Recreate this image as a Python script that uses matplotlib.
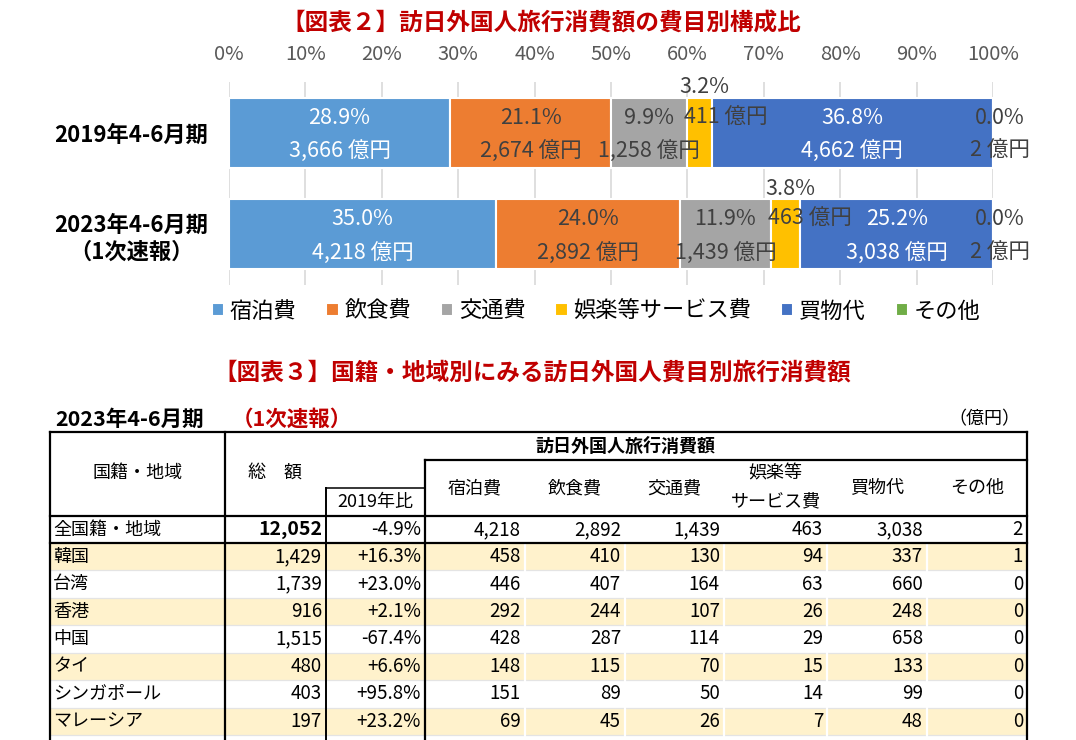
import matplotlib
matplotlib.use('Agg')
import matplotlib.pyplot as plt
import numpy as np

plt.rcParams['font.family'] = ['Noto Sans CJK JP', 'DejaVu Sans']

# ---- 図表2 data ----
categories = ['宿泊費', '飲食費', '交通費', '娯楽等サービス費', '買物代', 'その他']
colors = ['#5B9BD5', '#ED7D31', '#A5A5A5', '#FFC000', '#4472C4', '#70AD47']
periods = ['2019年4-6月期', '2023年4-6月期\n（1次速報）']
amounts_2019 = [3666, 2674, 1258, 411, 4662, 2]
amounts_2023 = [4218, 2892, 1439, 463, 3038, 2]
pct_2019 = [28.9, 21.1, 9.9, 3.2, 36.8, 0.0]
pct_2023 = [35.0, 24.0, 11.9, 3.8, 25.2, 0.0]

# ---- 図表3 data ----
regions = ['全国籍・地域', '韓国', '台湾', '香港', '中国', 'タイ', 'シンガポール', 'マレーシア']
totals = [12052, 1429, 1739, 916, 1515, 480, 403, 197]
vs_2019 = [-4.9, 16.3, 23.0, 2.1, -67.4, 6.6, 95.8, 23.2]
lodging = [4218, 458, 446, 292, 428, 148, 151, 69]
food = [2892, 410, 407, 244, 287, 115, 89, 45]
transport = [1439, 130, 164, 107, 114, 70, 50, 26]
entertainment = [463, 94, 63, 26, 29, 15, 14, 7]
shopping = [3038, 337, 660, 248, 658, 133, 99, 48]
other = [2, 1, 0, 0, 0, 0, 0, 0]

W, H = 1076, 740
RED = '#C00000'
DARK = '#404040'


def fx(x):
    return x / W


def fy(y):
    return 1 - y / H


fig = plt.figure(figsize=(W / 100, H / 100), dpi=100)

# full-figure axes in pixel coordinates, for titles and the table
tab = fig.add_axes([0, 0, 1, 1])
tab.set_xlim(0, W)
tab.set_ylim(H, 0)
tab.axis('off')

# ---------------- stacked bar chart ----------------
ax = fig.add_axes([fx(229), fy(285), (993 - 229) / W, (285 - 82) / H])
amounts = np.array([amounts_2019, amounts_2023], dtype=float)
pcts = np.array([pct_2019, pct_2023])
shares = amounts / amounts.sum(axis=1, keepdims=True) * 100
ypos = np.arange(len(periods))
bar_h = 0.69
fs_lab = 15.5

lefts = np.zeros(len(periods))
for i, cat in enumerate(categories):
    ax.barh(ypos, shares[:, i], left=lefts, height=bar_h, color=colors[i],
            edgecolor='white', linewidth=1.5, label=cat, zorder=2)
    for j in range(len(periods)):
        c = lefts[j] + shares[j, i] / 2
        txt_color = 'white' if i in (0, 4) else DARK
        pct_txt = '{:.1f}%'.format(pcts[j, i])
        amt_txt = '{:,} 億円'.format(int(amounts[j, i]))
        if i == 3:
            # small segment: percent above the bar, amount beside it
            ax.text(c + 0.6, ypos[j] - 0.45, pct_txt, ha='center', va='center',
                    fontsize=fs_lab, color=DARK, zorder=3)
            ax.text(lefts[j] - 0.4, ypos[j] - 0.15, amt_txt, ha='left', va='center',
                    fontsize=fs_lab, color=DARK, zorder=3)
        elif i == 5:
            ax.text(100.9, ypos[j] - 0.15, pct_txt, ha='center', va='center',
                    fontsize=fs_lab, color=DARK, zorder=3, clip_on=False)
            ax.text(100.9, ypos[j] + 0.18, amt_txt, ha='center', va='center',
                    fontsize=fs_lab, color=DARK, zorder=3, clip_on=False)
        else:
            ax.text(c, ypos[j] - 0.15, pct_txt, ha='center', va='center',
                    fontsize=fs_lab, color=txt_color, zorder=3)
            ax.text(c, ypos[j] + 0.18, amt_txt, ha='center', va='center',
                    fontsize=fs_lab, color=txt_color, zorder=3)
    lefts = lefts + shares[:, i]

ax.set_xlim(0, 100)
ax.set_ylim(1.5, -0.5)
ax.xaxis.tick_top()
ax.set_xticks(range(0, 101, 10))
ax.set_xticklabels(['{}%'.format(v) for v in range(0, 101, 10)])
ax.tick_params(axis='x', length=0, pad=12, labelsize=14.5, labelcolor='#595959')
ax.set_yticks(ypos)
ax.set_yticklabels(periods, fontsize=16, fontweight='bold')
for lab in ax.get_yticklabels():
    lab.set_multialignment('center')
    lab.set_linespacing(1.25)
ax.tick_params(axis='y', length=0, pad=15)
for s in ax.spines.values():
    s.set_visible(False)
ax.grid(axis='x', color='#D9D9D9', linewidth=1.2, zorder=0)
ax.set_axisbelow(True)
ax.patch.set_alpha(0)

handles, labels = ax.get_legend_handles_labels()
fig.legend(handles, labels, loc='center', bbox_to_anchor=(fx(596), fy(311)),
           ncol=6, frameon=False, fontsize=16, handlelength=0.55, handleheight=0.55,
           handletextpad=0.25, columnspacing=1.35)

# ---------------- titles ----------------
tab.text(541, 24, '【図表２】訪日外国人旅行消費額の費目別構成比', ha='center', va='center',
         fontsize=17, fontweight='bold', color=RED)
tab.text(532, 373, '【図表３】国籍・地域別にみる訪日外国人費目別旅行消費額', ha='center', va='center',
         fontsize=17, fontweight='bold', color=RED)
tab.text(55, 419, '2023年4-6月期', ha='left', va='center', fontsize=15.5, fontweight='bold')
tab.text(232, 419, '（1次速報）', ha='left', va='center', fontsize=15.5, fontweight='bold', color=RED)
tab.text(1020, 419, '（億円）', ha='right', va='center', fontsize=13)

# ---------------- table ----------------
cols = [50, 225, 326, 425, 525, 625, 724, 827, 927, 1027]
row_edges = np.concatenate([[516], np.linspace(543, 735, len(regions))])
bottom = 742

# zebra rows
for r in range(len(regions)):
    if r % 2 == 1:
        tab.add_patch(plt.Rectangle((cols[0], row_edges[r]), cols[-1] - cols[0],
                                    row_edges[r + 1] - row_edges[r],
                                    facecolor='#FFF2CC', edgecolor='none', zorder=1))
# light separators
for yb in row_edges[2:]:
    tab.plot([cols[0], cols[-1]], [yb, yb], color='#E4E4E4', lw=0.9, zorder=2)
for xb in cols[4:-1]:
    tab.plot([xb, xb], [543, bottom], color='white', lw=1.6, zorder=2)

# black rules
blk = dict(color='black', lw=1.6, zorder=3, solid_capstyle='projecting')
tab.plot([cols[0], cols[-1]], [432, 432], **blk)
tab.plot([cols[3], cols[-1]], [460, 460], **blk)
tab.plot([cols[2], cols[3]], [488, 488], color='black', lw=1.1, zorder=3)
tab.plot([cols[0], cols[-1]], [516, 516], **blk)
tab.plot([cols[0], cols[-1]], [543, 543], **blk)
tab.plot([cols[0], cols[0]], [432, bottom], **blk)
tab.plot([cols[1], cols[1]], [432, bottom], **blk)
tab.plot([cols[2], cols[2]], [488, bottom], color='black', lw=1.4, zorder=3)
tab.plot([cols[3], cols[3]], [460, bottom], **blk)
tab.plot([cols[-1], cols[-1]], [432, bottom], **blk)

# header text
hdr = dict(ha='center', va='center', fontsize=13, zorder=4)
tab.text((cols[0] + cols[1]) / 2, 473, '国籍・地域', **hdr)
tab.text((cols[1] + cols[2]) / 2, 473, '総　額', **hdr)
tab.text((cols[2] + cols[3]) / 2, 502, '2019年比', **hdr)
tab.text((cols[1] + cols[-1]) / 2, 446, '訪日外国人旅行消費額', ha='center', va='center',
         fontsize=13, fontweight='bold', zorder=4)
for k, cat in enumerate(categories):
    xc = (cols[3 + k] + cols[4 + k]) / 2
    if cat == '娯楽等サービス費':
        tab.text(xc, 473, '娯楽等', **hdr)
        tab.text(xc, 501, 'サービス費', **hdr)
    else:
        tab.text(xc, 488, cat, **hdr)

# body text
series = [lodging, food, transport, entertainment, shopping, other]
for r, name in enumerate(regions):
    yc = (row_edges[r] + row_edges[r + 1]) / 2
    tab.text(cols[0] + 3, yc, name, ha='left', va='center', fontsize=13, zorder=4)
    tab.text(cols[2] - 4, yc, '{:,}'.format(totals[r]), ha='right', va='center',
             fontsize=14 if r == 0 else 13.5, zorder=4,
             fontweight='bold' if r == 0 else 'normal')
    tab.text(cols[3] - 4, yc, '{:+.1f}%'.format(vs_2019[r]).replace('+-', '-'),
             ha='right', va='center', fontsize=13.5, zorder=4)
    for k, s in enumerate(series):
        tab.text(cols[4 + k] - 4, yc, '{:,}'.format(s[r]), ha='right', va='center',
                 fontsize=13.5, zorder=4)

fig.savefig('out.png', dpi=100)
